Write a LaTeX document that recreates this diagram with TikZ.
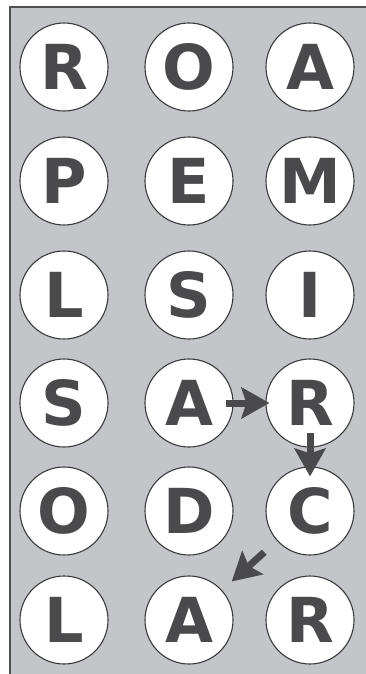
\documentclass[tikz,border=0pt]{standalone}
\usepackage{fontspec}
\setsansfont{DejaVu Sans}
\usepackage{tikz}
\usetikzlibrary{arrows.meta}
\definecolor{boardbg}{RGB}{196, 197, 200}
\definecolor{boardline}{RGB}{80, 80, 82}
\definecolor{letterink}{RGB}{74, 74, 76}
\definecolor{ringline}{RGB}{58, 58, 60}

\tikzset{
  tile/.style={circle, draw=ringline, line width=1.1pt, fill=white,
    minimum size=88pt, inner sep=0pt, text=letterink,
    font=\sffamily\bfseries\fontsize{62}{62}\selectfont},
  pathArrow/.style={draw=letterink, line width=7pt,
    -{Stealth[length=28pt, width=31pt, inset=5pt]}}
}

\begin{document}
\begin{tikzpicture}[x=1pt, y=-1pt]
			\useasboundingbox (0,0) rectangle (366,674);
			
			% board
			\fill[boardbg] (10,7.5) rectangle (366,674);
			\draw[boardline, line width=2pt] (10,674) -- (10,7.5) -- (366,7.5);
			
			% row 1
			\node[tile] (r1c1) at (64,67)  {R};
			\node[tile] (r1c2) at (189,67) {O};
			\node[tile] (r1c3) at (310,67) {A};
			% row 2
			\node[tile] (r2c1) at (64,181)  {P};
			\node[tile] (r2c2) at (189,181) {E};
			\node[tile] (r2c3) at (310,181) {M};
			% row 3
			\node[tile] (r3c1) at (64,295)  {L};
			\node[tile] (r3c2) at (189,295) {S};
			\node[tile] (r3c3) at (310,295) {I};
			% row 4
			\node[tile] (r4c1) at (64,403)  {S};
			\node[tile] (r4c2) at (189,403) {A};
			\node[tile] (r4c3) at (310,403) {R};
			% row 5
			\node[tile] (r5c1) at (64,511)  {O};
			\node[tile] (r5c2) at (189,511) {D};
			\node[tile] (r5c3) at (310,511) {C};
			% row 6
			\node[tile] (r6c1) at (64,620)  {L};
			\node[tile] (r6c2) at (189,620) {A};
			\node[tile] (r6c3) at (310,620) {R};
			
			% word path A -> R -> C -> A
			\draw[pathArrow, shorten <=-8pt, shorten >=-4pt] (r4c2) -- (r4c3);
			\draw[pathArrow, shorten <=-15pt, shorten >=-10pt] (r4c3) -- (r5c3);
			\draw[pathArrow, shorten <=17pt, shorten >=13pt] (r5c3) -- (r6c2);
			
		\end{tikzpicture}
\end{document}
